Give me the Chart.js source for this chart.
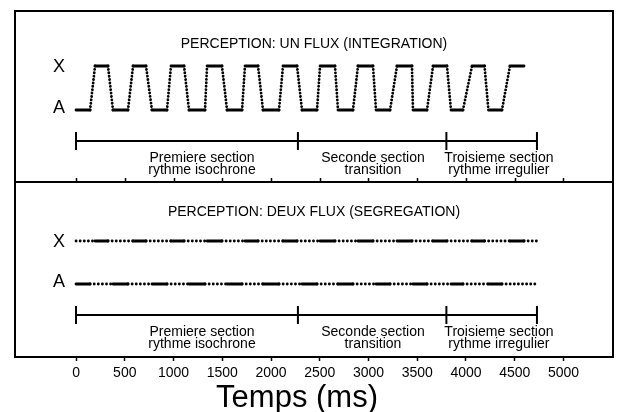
<!DOCTYPE html>
<html>
<head>
<meta charset="utf-8">
<script src="https://cdn.jsdelivr.net/npm/chart.js@4/dist/chart.umd.min.js"></script>
<style>
    html, body { margin: 0; padding: 0; background: #fff; }
    #wrap { position: relative; width: 628px; height: 412px; }
    canvas { position: absolute; left: 0; }
    #topChart { top: 0; }
    #bottomChart { top: 182px; }
</style>
</head>
<body>
<div id="wrap">
    <canvas id="topChart" width="628" height="183"></canvas>
    <canvas id="bottomChart" width="628" height="230"></canvas>
</div>
<script>
// Tone timings (ms): A = low tone, X = high tone
const aOn  = [0, 379, 779, 1159, 1549, 1918, 2318, 2687, 3077, 3456, 3846, 4230];
const aOff = [144, 533, 933, 1323, 1703, 2082, 2472, 2841, 3221, 3600, 3969, 4369];
const xOn  = [195, 585, 974, 1344, 1733, 2123, 2503, 2892, 3292, 3662, 4062, 4451];
const xOff = [328, 718, 1108, 1497, 1867, 2267, 2656, 3046, 3446, 3805, 4190, 4595];
const streamEnd = 4728;

const sectionBounds = [0, 2276, 3799, 4728];
const sectionCenters = [1292, 3046, 4338];
const sectionLabels = [
    ['Premiere section', 'rythme isochrone'],
    ['Seconde section', 'transition'],
    ['Troisieme section', 'rythme irregulier']
];
const tickValues = [0, 500, 1000, 1500, 2000, 2500, 3000, 3500, 4000, 4500, 5000];
const panelTitles = ['PERCEPTION: UN FLUX (INTEGRATION)', 'PERCEPTION: DEUX FLUX (SEGREGATION)'];
const streamNames = ['X', 'A'];

const X_MIN = -626, X_MAX = 5508;
const FONT = '"Liberation Sans", Arial, sans-serif';
const DOT = [0.1, 4];
const SLOPE_DOT = [0.1, 3.3];

// waveform for the integrated percept: A low, X high
const wave = [];
aOn.forEach((t, i) => {
    wave.push({ x: aOn[i], y: 0 }, { x: aOff[i], y: 0 });
    wave.push({ x: xOn[i], y: 1 }, { x: xOff[i], y: 1 });
});

function streamPoints(on, off, level) {
    const pts = [];
    if (on[0] > 0) pts.push({ x: 0, y: level });
    on.forEach((t, i) => pts.push({ x: on[i], y: level }, { x: off[i], y: level }));
    pts.push({ x: streamEnd, y: level });
    return pts;
}

function inTone(on, off, a, b) {
    const m = (a + b) / 2;
    return on.some((s, i) => m > s && m < off[i]);
}

const bracket = (level) => sectionBounds.map(v => ({ x: v, y: level }));

function bracketDataset(level) {
    return {
        data: bracket(level),
        borderColor: '#000',
        borderWidth: 2,
        pointStyle: 'line',
        rotation: 90,
        pointRadius: 9,
        pointBorderWidth: 2,
        pointBorderColor: '#000'
    };
}

function drawTexts(chart, cfg) {
    const { ctx, scales: { x, y } } = chart;
    ctx.save();
    ctx.fillStyle = '#000';
    ctx.textAlign = 'center';
    ctx.textBaseline = 'middle';
    ctx.font = '14px ' + FONT;
    ctx.fillText(cfg.title, (chart.chartArea.left + chart.chartArea.right) / 2, y.getPixelForValue(cfg.titleY));
    ctx.font = '18px ' + FONT;
    ctx.fillText(streamNames[0], x.getPixelForValue(-175), y.getPixelForValue(1) + 1);
    ctx.fillText(streamNames[1], x.getPixelForValue(-175), y.getPixelForValue(0) - 2);
    ctx.font = '14px ' + FONT;
    sectionLabels.forEach((lines, i) => {
        const px = x.getPixelForValue(sectionCenters[i]);
        ctx.fillText(lines[0], px, y.getPixelForValue(cfg.rowY[0]));
        ctx.fillText(lines[1], px, y.getPixelForValue(cfg.rowY[1]));
    });
    ctx.restore();
}

const topPlugin = {
    id: 'topFrame',
    afterDraw(chart) {
        const { ctx, chartArea: a, scales: { x } } = chart;
        ctx.save();
        ctx.strokeStyle = '#000';
        ctx.lineWidth = 2;
        ctx.strokeRect(a.left, a.top, a.right - a.left, a.bottom - a.top);
        ctx.lineWidth = 1.5;
        tickValues.forEach(v => {
            const px = Math.round(x.getPixelForValue(v)) + 0.5;
            ctx.beginPath();
            ctx.moveTo(px, a.bottom);
            ctx.lineTo(px, a.bottom - 4);
            ctx.stroke();
        });
        ctx.restore();
        drawTexts(chart, { title: panelTitles[0], titleY: 1.5, rowY: [-1.1, -1.37] });
    }
};

const bottomPlugin = {
    id: 'bottomFrame',
    afterDraw(chart) {
        const { ctx, chartArea: a, scales: { x } } = chart;
        ctx.save();
        ctx.strokeStyle = '#000';
        ctx.lineWidth = 2;
        ctx.beginPath();
        ctx.moveTo(a.left, 0); ctx.lineTo(a.left, a.bottom);
        ctx.moveTo(a.right, 0); ctx.lineTo(a.right, a.bottom);
        ctx.stroke();
        ctx.fillStyle = '#000';
        ctx.textAlign = 'center';
        ctx.textBaseline = 'middle';
        ctx.font = '31px ' + FONT;
        ctx.fillText('Temps (ms)', x.getPixelForValue(2267), 216);
        ctx.restore();
        drawTexts(chart, { title: panelTitles[1], titleY: 1.67, rowY: [-1.13, -1.4] });
    }
};

new Chart(document.getElementById('topChart'), {
    type: 'line',
    data: {
        datasets: [{
            data: wave,
            borderColor: '#000',
            borderWidth: 2.8,
            borderCapStyle: 'round',
            borderDash: [],
            pointRadius: 0,
            segment: {
                borderDash: c => c.p0.parsed.y === c.p1.parsed.y ? [] : SLOPE_DOT
            }
        }, bracketDataset(-0.705)]
    },
    options: {
        responsive: false,
        animation: false,
        layout: { padding: { left: 15, right: 15, top: 11, bottom: 1 }, autoPadding: false },
        plugins: { legend: { display: false }, tooltip: { enabled: false } },
        scales: {
            x: { type: 'linear', min: X_MIN, max: X_MAX, display: false },
            y: { type: 'linear', min: -1.636, max: 2.25, display: false }
        }
    },
    plugins: [topPlugin]
});

new Chart(document.getElementById('bottomChart'), {
    type: 'line',
    data: {
        datasets: [{
            data: streamPoints(xOn, xOff, 1),
            borderColor: '#000',
            borderWidth: 2.8,
            borderCapStyle: 'round',
            pointRadius: 0,
            segment: {
                borderDash: c => inTone(xOn, xOff, c.p0.parsed.x, c.p1.parsed.x) ? [] : DOT
            }
        }, {
            data: streamPoints(aOn, aOff, 0),
            borderColor: '#000',
            borderWidth: 2.8,
            borderCapStyle: 'round',
            pointRadius: 0,
            segment: {
                borderDash: c => inTone(aOn, aOff, c.p0.parsed.x, c.p1.parsed.x) ? [] : DOT
            }
        }, bracketDataset(-0.721)]
    },
    options: {
        responsive: false,
        animation: false,
        layout: { padding: { left: 15, right: 15, top: 0, bottom: 0 }, autoPadding: false },
        plugins: { legend: { display: false }, tooltip: { enabled: false } },
        scales: {
            x: {
                type: 'linear', min: X_MIN, max: X_MAX,
                afterBuildTicks: s => { s.ticks = tickValues.map(v => ({ value: v })); },
                afterFit: s => { s.height = 55; },
                border: { display: true, color: '#000', width: 2 },
                grid: { drawOnChartArea: false, drawTicks: true, tickLength: 4, tickWidth: 1.5, tickColor: '#000' },
                ticks: { color: '#000', font: { family: FONT, size: 14 }, padding: 4, maxRotation: 0, autoSkip: false, callback: v => String(v) }
            },
            y: { type: 'linear', min: -1.698, max: 2.372, display: false }
        }
    },
    plugins: [bottomPlugin]
});
</script>
</body>
</html>
